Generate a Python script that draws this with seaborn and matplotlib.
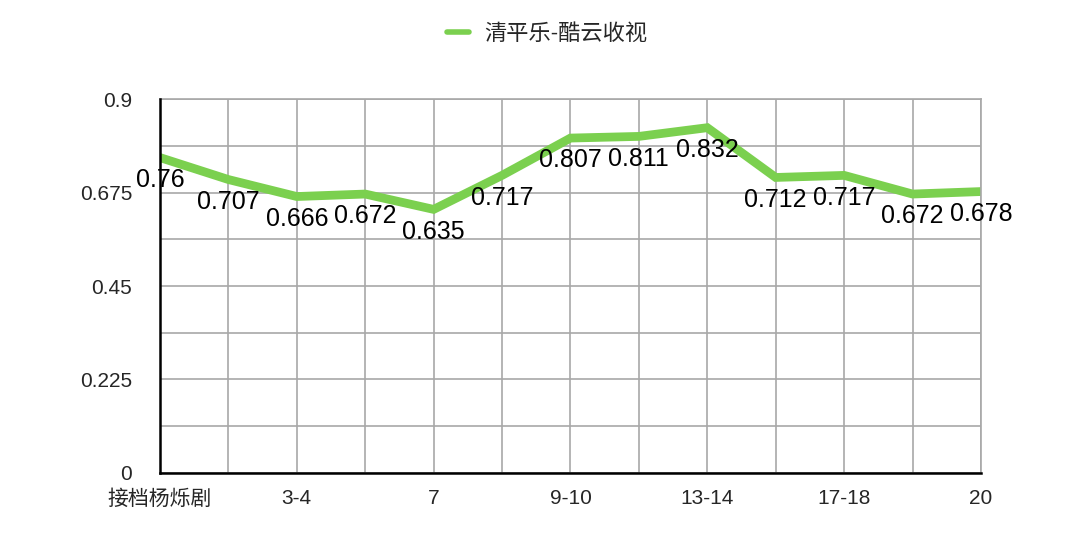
import pandas as pd
import matplotlib.pyplot as plt
import seaborn as sns
import numpy as np

# episode groups (only every other label is printed on the axis)
episode_labels = ['接档杨烁剧', '', '3-4', '', '7', '', '9-10', '', '13-14', '', '17-18', '', '20']
ratings = [0.76, 0.707, 0.666, 0.672, 0.635, 0.717, 0.807, 0.811, 0.832, 0.712, 0.717, 0.672, 0.678]
series_name = '清平乐-酷云收视'
y_major = [0, 0.225, 0.45, 0.675, 0.9]
y_major_labels = ['0', '0.225', '0.45', '0.675', '0.9']
y_minor = [0.1125, 0.3375, 0.5625, 0.7875]

sns.set_style('white')
plt.rcParams['font.family'] = ['Liberation Sans', 'Noto Sans CJK SC', 'DejaVu Sans']

df = pd.DataFrame({'pos': np.arange(len(ratings)), 'rating': ratings})

fig = plt.figure(figsize=(10.8, 5.39), dpi=100)
ax = fig.add_axes([0.1481, 0.123, 0.7602, 0.6924])

green = '#7bd04f'
grid = '#a8a8a8'

sns.lineplot(data=df, x='pos', y='rating', ax=ax, color=green, linewidth=6.3,
             solid_joinstyle='miter', label=series_name, legend=False)

for i, v in enumerate(ratings):
    ax.annotate(f'{v:g}', (i, v), xytext=(0, -16), textcoords='offset points',
                ha='center', va='center', fontsize=18, color='black')

ax.set_xlim(0, len(ratings) - 1)
ax.set_ylim(0, 0.9)
ax.set_xticks(df['pos'])
ax.set_xticklabels(episode_labels, fontsize=15)
ax.set_yticks(y_major)
ax.set_yticklabels(y_major_labels, fontsize=15)
ax.set_yticks(y_minor, minor=True)
ax.tick_params(axis='both', which='both', length=0)
ax.tick_params(axis='y', pad=20)
ax.tick_params(axis='x', pad=12)
ax.set_xlabel('')
ax.set_ylabel('')

ax.grid(True, which='both', color=grid, linewidth=1.2)
ax.set_axisbelow(True)
for side in ['top', 'right']:
    ax.spines[side].set_color(grid)
    ax.spines[side].set_linewidth(1.2)
for side in ['left', 'bottom']:
    ax.spines[side].set_color('black')
    ax.spines[side].set_linewidth(1.8)
    ax.spines[side].set_zorder(5)

handles, labels = ax.get_legend_handles_labels()
leg = fig.legend(handles, labels, loc='center', bbox_to_anchor=(547 / 1080, 1 - 34 / 539),
                 frameon=False, fontsize=16, handlelength=1.0, handletextpad=0.7)
for line in leg.get_lines():
    line.set_linewidth(4)

fig.savefig('out.png', dpi=100)
